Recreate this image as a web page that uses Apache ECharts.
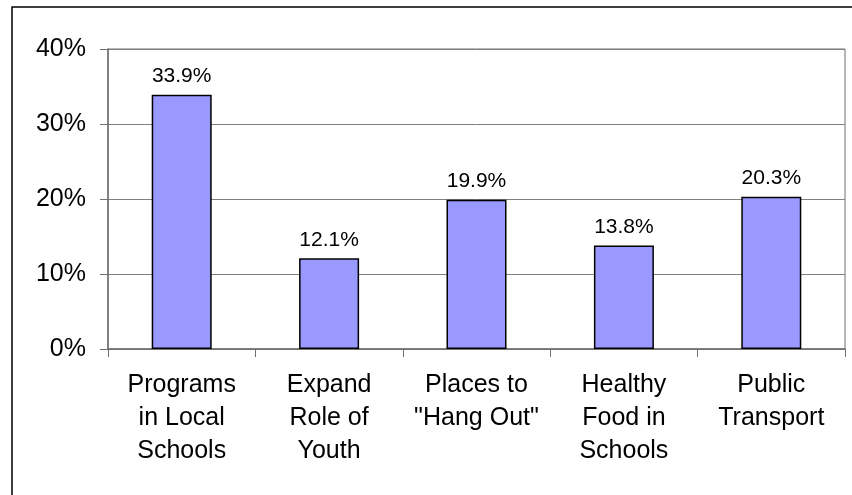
<!DOCTYPE html>
<html>
<head>
<meta charset="utf-8">
<script src="https://cdn.jsdelivr.net/npm/echarts@6/dist/echarts.min.js"></script>
<style>
  html, body { margin: 0; padding: 0; background: #fff; }
  #chart { width: 852px; height: 495px; }
</style>
</head>
<body>
<div id="chart"></div>
<script>
// Survey priorities, share of responses (%)
const categories = [
  'Programs\nin Local\nSchools',
  'Expand\nRole of\nYouth',
  'Places to\n"Hang Out"',
  'Healthy\nFood in\nSchools',
  'Public\nTransport'
];
const shares = [33.9, 12.1, 19.9, 13.8, 20.3];
const yTicks = { min: 0, max: 40, step: 10 };

const FONT = '"Liberation Sans", Arial, sans-serif';
const AXIS_GREY = '#6f6f6f';

const chart = echarts.init(document.getElementById('chart'), null, { renderer: 'canvas' });

chart.setOption({
  animation: false,
  backgroundColor: '#ffffff',
  textStyle: { fontFamily: FONT },
  graphic: [{
    type: 'rect',
    silent: true,
    shape: { x: 12, y: 7, width: 900, height: 600 },
    style: { fill: 'none', stroke: '#000', lineWidth: 1.5 }
  }],
  grid: {
    left: 108, right: 7, top: 49, bottom: 146,
    show: true, borderColor: AXIS_GREY, borderWidth: 1, backgroundColor: 'transparent'
  },
  xAxis: {
    type: 'category',
    data: categories,
    axisLine: { lineStyle: { color: AXIS_GREY, width: 1.5 } },
    axisTick: { show: true, alignWithLabel: false, length: 8, lineStyle: { color: AXIS_GREY, width: 1 } },
    axisLabel: {
      interval: 0,
      margin: 20,
      color: '#000',
      fontFamily: FONT,
      fontSize: 25,
      lineHeight: 33,
      align: 'center'
    },
    splitLine: { show: false }
  },
  yAxis: {
    type: 'value',
    min: yTicks.min,
    max: yTicks.max,
    interval: yTicks.step,
    axisLine: { show: true, lineStyle: { color: AXIS_GREY, width: 1.5 } },
    axisTick: { show: true, length: 8, lineStyle: { color: AXIS_GREY, width: 1 } },
    axisLabel: {
      formatter: '{value}%',
      margin: 22,
      color: '#000',
      fontFamily: FONT,
      fontSize: 25
    },
    splitLine: { show: true, lineStyle: { color: '#808080', width: 1 } }
  },
  series: [{
    type: 'bar',
    data: shares,
    barWidth: 60,
    itemStyle: { color: '#9999FF', borderColor: '#000', borderWidth: 1.5 },
    label: {
      show: true,
      position: 'top',
      distance: 8,
      formatter: p => p.value.toFixed(1) + '%',
      color: '#000',
      fontFamily: FONT,
      fontSize: 21
    }
  }]
});
</script>
</body>
</html>
